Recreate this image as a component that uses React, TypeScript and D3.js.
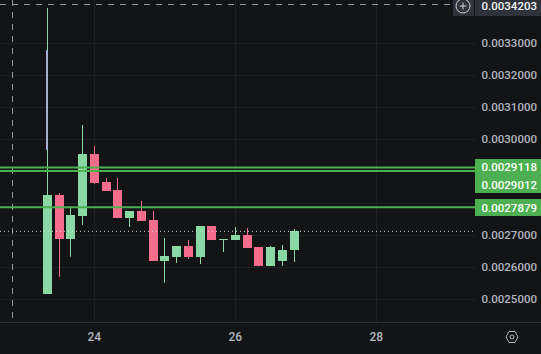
import React from "react";
import * as d3 from "d3";

const W = 541, H = 354;
const opens = [0.0025156,0.002825,0.0026875,0.0027594,0.0029531,0.0028656,0.0028406,0.0027531,0.002775,0.0027469,0.0026188,0.0026313,0.0026656,0.0026313,0.0027281,0.0026844,0.0026844,0.0027,0.0026625,0.0026031,0.0026188,0.0026531];
const highs = [0.0034094,0.0028313,0.0027906,0.0030438,0.0029781,0.0028781,0.0028781,0.002775,0.0028063,0.002775,0.0026906,0.0026656,0.0026844,0.0027281,0.0027281,0.0026875,0.002725,0.0027219,0.0026625,0.0026656,0.0026688,0.0027188];
const lows = [0.0025156,0.0025697,0.0026322,0.0027313,0.0028594,0.0028375,0.0027531,0.002725,0.0027438,0.0026188,0.0025509,0.0026125,0.002625,0.0026094,0.0026844,0.0026469,0.0026844,0.0026594,0.0026031,0.0026031,0.0026031,0.0026156];
const closes = [0.002825,0.0026875,0.0027625,0.0029531,0.0028625,0.0028375,0.0027531,0.002775,0.0027438,0.0026188,0.0026344,0.0026656,0.0026313,0.0027281,0.0026844,0.0026875,0.0027,0.0026594,0.0026031,0.0026625,0.0026531,0.0027125];
const startDay = 23.3333;
const stepDays = 1 / 6;
const priceTicks = [0.0033,0.0032,0.0031,0.003,0.0029,0.0028,0.0027,0.0026,0.0025];
const hiddenTicks = [0.0029,0.0028];
const dayTicks = [24,26,28];
const levels = [0.0029118,0.0029012,0.0027879];
const lastPrice = 0.0027116;
const crossPrice = 0.0034203;
const spike = [0.0032781,0.0029656];

const y = d3.scaleLinear().domain([0.0025,0.0033]).range([299,43]);
const x = d3.scaleLinear().domain([24,26]).range([94.3,235.3]);
const up = "#8ad9a5", down = "#f56d8c", lineGreen = "#4caf50", bg = "#131416", grid = "#1f2022";
const font = "Roboto, sans-serif";
const px = (v: number) => Math.round(v) + 0.5;
const fmt = (v: number) => v.toFixed(7);

export default function App() {
  const lineY = levels.map(y);
  return (
    <svg width={W} height={H} viewBox={`0 0 ${W} ${H}`} style={{ position: "fixed", left: 0, top: 0, display: "block", background: bg }} fontFamily={font}>
      <rect width={W} height={H} fill={bg} />
      {priceTicks.map(t => <line key={t} x1={0} x2={475} y1={px(y(t))} y2={px(y(t))} stroke={grid} />)}
      {dayTicks.map(t => <line key={t} x1={px(x(t))} x2={px(x(t))} y1={0} y2={322} stroke={grid} />)}
      <line x1={0} x2={W} y1={322.5} y2={322.5} stroke="#2c2e31" />

      <line x1={0} x2={453} y1={y(crossPrice)} y2={y(crossPrice)} stroke="#9598a1" strokeDasharray="6 6" />
      <line x1={12.5} x2={12.5} y1={0} y2={322} stroke="#9598a1" strokeDasharray="6 6" />

      {opens.map((o, i) => {
        const cx = Math.floor(x(startDay + i * stepDays));
        const c = closes[i];
        const col = c >= o ? up : down;
        const top = y(Math.max(o, c)), bot = y(Math.min(o, c));
        return (
          <g key={i}>
            <rect x={cx} width={1} y={y(highs[i])} height={y(lows[i]) - y(highs[i])} fill={col} />
            <rect x={cx - 4} width={9} y={top} height={Math.max(1, bot - top)} fill={col} />
          </g>
        );
      })}
      <rect x={Math.floor(x(startDay)) - 1} width={1.5} y={y(spike[0])} height={y(spike[1]) - y(spike[0])} fill="#b39ddb" />

      <line x1={0} x2={475} y1={y(lastPrice)} y2={y(lastPrice)} stroke="#d5d6d8" strokeDasharray="1 3" />
      {lineY.map((v, i) => <line key={i} x1={0} x2={475} y1={v + 0.3} y2={v + 0.3} stroke={lineGreen} strokeWidth={2} />)}

      {priceTicks.filter(t => !hiddenTicks.includes(t)).map(t => (
        <text key={t} x={537} y={y(t) + 4} textAnchor="end" fontSize={11.5} fontWeight={500} fill="#b2b5be">{fmt(t)}</text>
      ))}

      <rect x={475} y={159} width={66} height={34} fill={lineGreen} />
      <rect x={475} y={199} width={66} height={17} fill={lineGreen} />
      {levels.map((l, i) => (
        <text key={l} x={537} y={[171, 189, 212][i]} textAnchor="end" fontSize={11.5} fontWeight={500} fill="#ffffff">{fmt(l)}</text>
      ))}

      <rect x={453} y={0} width={21} height={16} fill="#2f323a" />
      <circle cx={463} cy={6} r={7} fill="none" stroke="#d1d4dc" />
      <path d="M459.5 6H466.5M463 2.5V9.5" stroke="#d1d4dc" />
      <rect x={475} y={0} width={66} height={16} fill="#2f323a" />
      <text x={537} y={10} textAnchor="end" fontSize={11.5} fontWeight={500} fill="#f0f1f3">{fmt(crossPrice)}</text>

      {dayTicks.map(t => (
        <text key={t} x={x(t)} y={341} textAnchor="middle" fontSize={12} fontWeight={500} fill="#b2b5be">{t}</text>
      ))}

      <path d="M506 337L509 331.5H515L518 337L515 342.5H509Z" fill="none" stroke="#b2b5be" />
      <circle cx={512} cy={337} r={2} fill="none" stroke="#b2b5be" />
    </svg>
  );
}
